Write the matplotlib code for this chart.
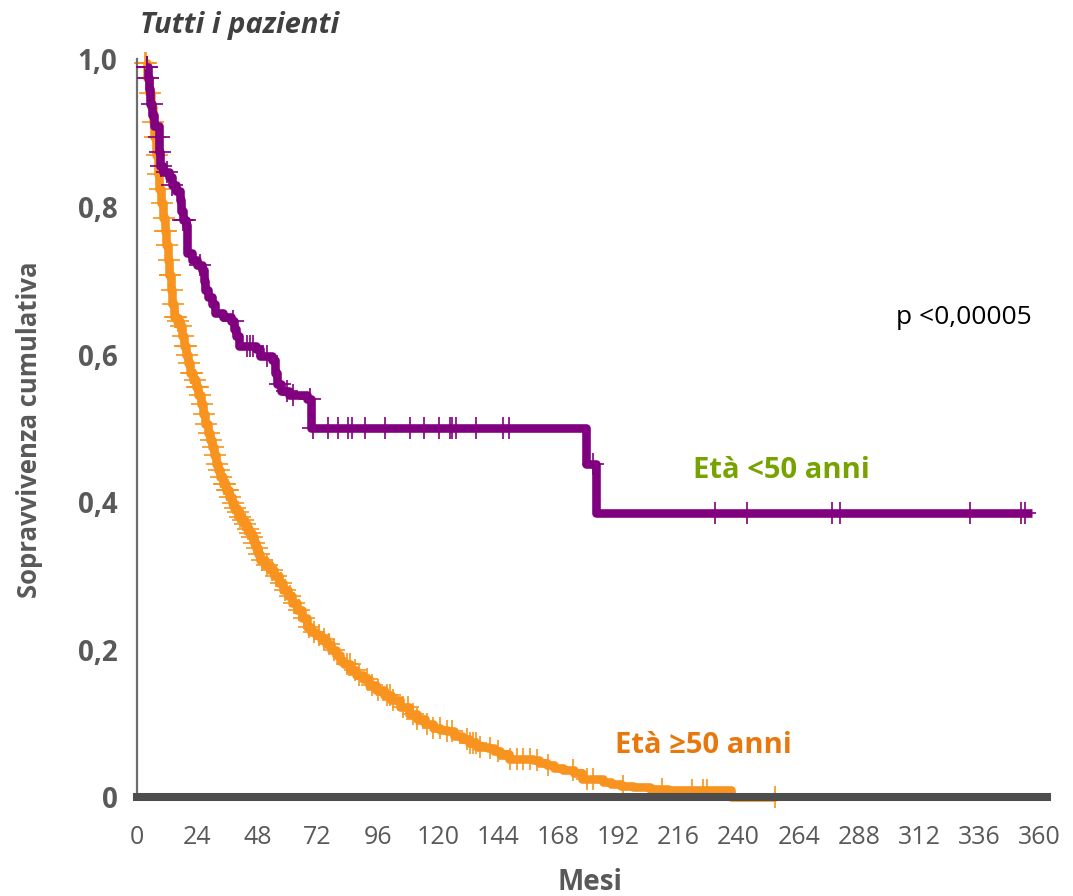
import numpy as np
import matplotlib
matplotlib.use("Agg")
import matplotlib.pyplot as plt

plt.rcParams["font.family"] = ["Open Sans", "DejaVu Sans"]

# curva di Kaplan-Meier, età < 50 anni (tempo in mesi, sopravvivenza dopo l'evento)
young_t = [3.5, 4.2, 4.8, 5.3, 5.9, 6.8, 8.6, 8.9, 9.2, 10.5, 12.8, 13.8, 15.5,
           17.0, 17.6, 18.3, 19.5, 19.8, 20.0, 22.0, 24.0, 26.0, 26.6, 27.2,
           28.5, 30.0, 31.0, 34.5, 37.5, 38.5, 39.5, 40.5, 47.5, 49.0, 54.0,
           55.2, 56.0, 57.5, 60.5, 67.8, 69.5, 179.0, 183.0, 357.0]
young_s = [0.99, 0.975, 0.96, 0.94, 0.925, 0.91, 0.895, 0.875, 0.855, 0.848,
           0.84, 0.83, 0.822, 0.81, 0.795, 0.782, 0.775, 0.755, 0.737, 0.728,
           0.722, 0.714, 0.70, 0.687, 0.678, 0.668, 0.656, 0.651, 0.645, 0.635,
           0.625, 0.612, 0.607, 0.598, 0.592, 0.575, 0.56, 0.55, 0.545, 0.54,
           0.50, 0.452, 0.385, 0.385]
young_cens = [3.9, 4.1, 4.4, 5.8, 8.6, 9.0, 9.5, 12.0, 14.0, 18.5, 19.0, 25.0,
              38.4, 43.7, 45.0, 46.4, 51.7, 57.0, 59.7, 62.3, 69.0, 70.3, 76.0,
              80.0, 84.0, 85.8, 90.9, 98.9, 108.9, 114.5, 120.4, 124.8, 125.7,
              127.4, 135.4, 146.0, 148.3, 182.0, 230.7, 243.3, 277.2, 280.3,
              332.1, 352.7, 354.1]

# curva di Kaplan-Meier, età >= 50 anni
old_t = [3.0, 4.0, 4.8, 5.5, 6.2, 6.8, 7.5, 8.2, 8.8, 9.5, 10.3, 11.0, 11.7,
         12.3, 12.9, 13.5, 14.1, 14.6, 16.0, 17.2, 18.0, 18.8, 19.6, 20.4,
         21.2, 22.4, 23.5, 24.5, 25.5, 26.4, 27.3, 28.2, 29.0, 29.8, 30.6,
         31.5, 32.3, 33.1, 34.3, 35.5, 36.7, 37.8, 38.8, 39.8, 40.8, 41.7,
         42.7, 43.7, 44.7, 45.7, 46.5, 47.3, 48.2, 49.0, 51.0, 53.0, 54.8,
         56.6, 58.3, 60.1, 61.9, 63.7, 65.7, 67.7, 69.5, 71.5, 73.5, 75.5,
         77.5, 79.5, 81.0, 82.5, 85.0, 87.5, 90.0, 92.5, 95.5, 98.5, 101.5,
         105.0, 108.5, 111.5, 115.0, 118.0, 121.0, 123.5, 126.5, 129.5, 132.5,
         135.5, 140.0, 142.5, 145.0, 148.5, 158.0, 160.5, 163.5, 166.5, 170.0,
         174.5, 177.5, 186.0, 189.0, 193.0, 198.0, 204.5, 212.0, 237.0, 255.0]
old_s = [0.995, 0.975, 0.955, 0.935, 0.915, 0.895, 0.87, 0.845, 0.825, 0.805,
         0.785, 0.768, 0.748, 0.728, 0.708, 0.688, 0.668, 0.651, 0.646, 0.638,
         0.625, 0.612, 0.60, 0.588, 0.575, 0.565, 0.556, 0.545, 0.533, 0.52,
         0.506, 0.493, 0.484, 0.475, 0.464, 0.452, 0.443, 0.434, 0.425, 0.416,
         0.407, 0.398, 0.392, 0.386, 0.38, 0.376, 0.37, 0.364, 0.358, 0.353,
         0.345, 0.337, 0.329, 0.321, 0.315, 0.308, 0.299, 0.29, 0.281, 0.272,
         0.263, 0.254, 0.243, 0.231, 0.224, 0.219, 0.214, 0.208, 0.20, 0.192,
         0.185, 0.18, 0.172, 0.166, 0.16, 0.152, 0.145, 0.138, 0.131, 0.122,
         0.113, 0.106, 0.099, 0.093, 0.091, 0.089, 0.083, 0.078, 0.073, 0.068,
         0.066, 0.062, 0.058, 0.051, 0.05, 0.046, 0.043, 0.04, 0.037, 0.033,
         0.024, 0.021, 0.017, 0.015, 0.013, 0.011, 0.01, 0.0, 0.0]
old_cens = [3.3, 3.6, 4.1, 4.5, 5.0, 6.5, 7.0, 8.0, 8.5, 9.0, 9.8, 10.6, 11.2,
            11.5, 12.0, 12.6, 13.0, 13.3, 13.8, 14.3, 15.0, 15.5, 16.5, 17.5,
            18.4, 19.0, 19.4, 20.0, 20.8, 21.6, 22.0, 23.0, 23.8, 24.2, 25.0,
            25.8, 26.8, 27.6, 28.6, 29.4, 30.2, 31.0, 31.8, 32.8, 33.6, 34.6,
            35.0, 36.0, 36.4, 37.2, 38.2, 39.2, 40.2, 41.2, 42.2, 43.2, 44.2,
            45.2, 46.0, 46.8, 47.8, 48.6, 50.0, 52.0, 54.0, 55.5, 57.5, 59.0,
            61.0, 62.5, 64.5, 66.5, 68.5, 70.5, 72.5, 74.5, 76.5, 78.5, 83.6,
            84.9, 86.9, 88.6, 91.6, 93.6, 96.2, 99.6, 100.9, 102.2, 106.2,
            108.2, 110.2, 111.5, 115.5, 118.1, 120.8, 123.5, 125.5, 131.5,
            132.8, 134.1, 135.4, 136.8, 140.7, 144.1, 148.7, 151.4, 154.0,
            156.7, 159.4, 164.0, 174.0, 179.6, 181.9, 193.9, 209.6, 221.2,
            225.8, 227.2, 254.4]

x_ticks = list(range(0, 361, 24))
y_ticks = [0, 0.2, 0.4, 0.6, 0.8, 1.0]
y_labels = ["0", "0,2", "0,4", "0,6", "0,8", "1,0"]

PURPLE = "#800080"
ORANGE = "#f7931e"
GREY = "#595959"


def surv_at(times, surv, t):
    # valore della curva a gradini al tempo t
    i = np.searchsorted(times, t, side="right") - 1
    return surv[max(i, 0)]


W, H = 1073, 896
fig = plt.figure(figsize=(W / 100, H / 100), dpi=100)
ax = fig.add_axes([137 / W, 0.1006, 910 / W, 0.8330])

# assi: prima la posizione dello spine (resetta i tick), poi le etichette
for side in ["top", "right"]:
    ax.spines[side].set_visible(False)
ax.spines["bottom"].set_position(("data", 0))
ax.spines["bottom"].set_linewidth(5.8)
ax.spines["bottom"].set_color("#4d4d4d")
ax.spines["bottom"].set_zorder(4)
ax.spines["left"].set_bounds(0, 1.0)
ax.spines["left"].set_linewidth(1.6)
ax.spines["left"].set_color("#6e6e6e")

# età >= 50
ax.plot(old_t, old_s, drawstyle="steps-post", color=ORANGE, lw=6.2,
        solid_joinstyle="round", solid_capstyle="butt", zorder=2, clip_on=False)
ax.plot(old_cens, [surv_at(old_t, old_s, t) for t in old_cens], ls="none",
        marker="+", ms=16, mew=1.2, color=ORANGE, zorder=2.1, clip_on=False)

# età < 50
ax.plot(young_t, young_s, drawstyle="steps-post", color=PURPLE, lw=6.2,
        solid_joinstyle="round", solid_capstyle="butt", zorder=3, clip_on=False)
ax.plot(young_cens, [surv_at(young_t, young_s, t) for t in young_cens],
        ls="none", marker="+", ms=16, mew=1.2, color=PURPLE, zorder=3.1,
        clip_on=False)

ax.set_xlim(0, 363)
ax.set_ylim(-0.012, 1.0)
ax.set_xticks(x_ticks)
ax.set_xticklabels([str(v) for v in x_ticks], fontsize=18, color=GREY)
ax.set_yticks(y_ticks)
ax.set_yticklabels(y_labels, fontsize=20, color=GREY, fontweight="bold")
ax.tick_params(axis="both", length=0)
ax.tick_params(axis="x", pad=20)
ax.tick_params(axis="y", pad=14)

ax.text(330, 0.65, "p <0,00005", fontsize=19, color="black",
        ha="center", va="center")
ax.text(257, 0.443, "Età <50 anni", fontsize=21, color="#77a300",
        fontweight="bold", ha="center", va="center")
ax.text(226, 0.07, "Età ≥50 anni", fontsize=21, color="#e8780c",
        fontweight="bold", ha="center", va="center")

fig.text(140 / W, 1 - 25 / H, "Tutti i pazienti", fontsize=21, color="#404040",
         fontweight="bold", fontstyle="italic", ha="left", va="center")
fig.text(30 / W, 1 - 430 / H, "Sopravvivenza cumulativa", fontsize=18.5,
         color=GREY, fontweight="bold", rotation=90, ha="center", va="center")
fig.text(590 / W, 1 - 882 / H, "Mesi", fontsize=20, color=GREY,
         fontweight="bold", ha="center", va="center")

fig.savefig("out.png", dpi=100)
